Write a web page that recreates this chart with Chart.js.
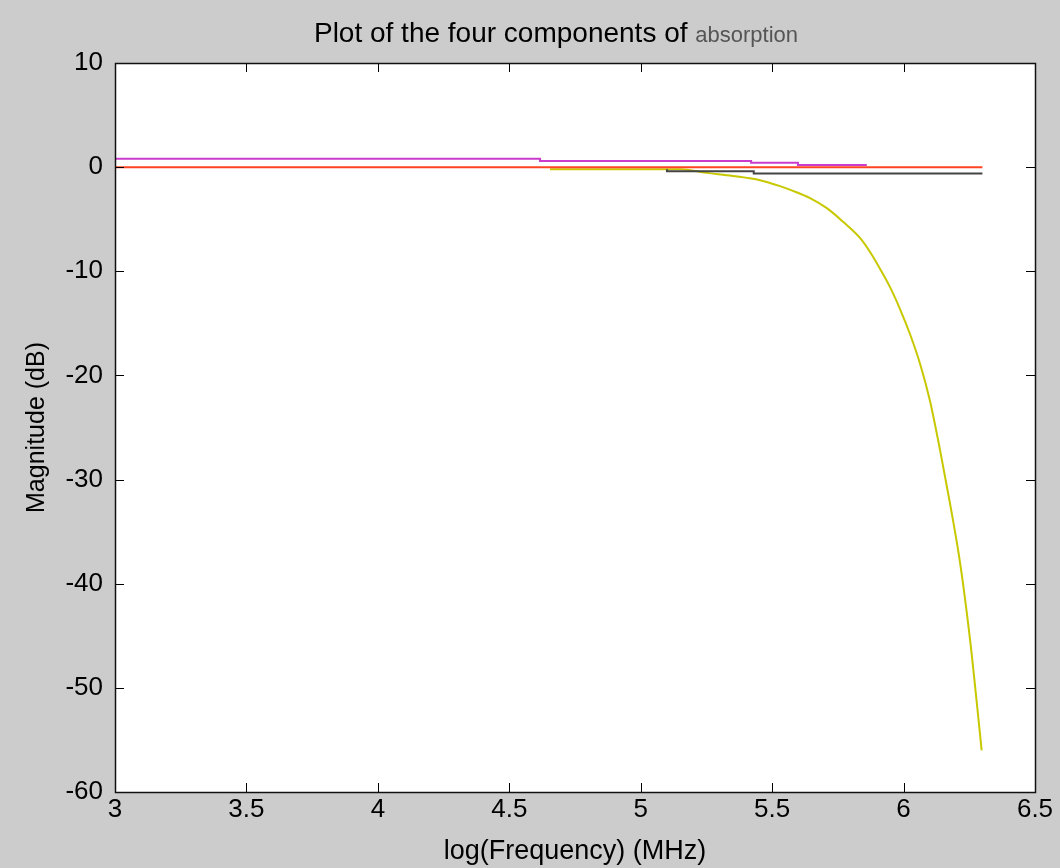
<!DOCTYPE html>
<html>
<head>
<meta charset="utf-8">
<script src="https://cdn.jsdelivr.net/npm/chart.js@4/dist/chart.umd.min.js"></script>
<style>
  html, body { margin: 0; padding: 0; background: #cccccc; }
  #wrap { width: 1060px; height: 868px; }
</style>
</head>
<body>
<div id="wrap"><canvas id="c" width="1060" height="868"></canvas></div>
<script>
// ---- data ----
const xTicks = [3, 3.5, 4, 4.5, 5, 5.5, 6, 6.5];
const yTicks = [10, 0, -10, -20, -30, -40, -50, -60];

const magentaX = [3, 4.617, 5.42, 5.598, 5.73, 5.86];
const magentaY = [1.05, 0.8, 0.6, 0.42, 0.2, 0.2];

const redX = [3, 6.3];
const redY = [0, 0];

const blackX = [5.10, 5.43, 6.0, 6.3];
const blackY = [-0.2, -0.4, -0.6, -0.6];

const yellowX = [4.655, 5.15, 5.25, 5.35, 5.454, 5.530, 5.579, 5.644, 5.708, 5.770, 5.835, 5.872, 5.910, 5.948, 5.986, 6.024, 6.063, 6.101, 6.139, 6.176, 6.215, 6.253, 6.291, 6.297];
const yellowY = [-0.2, -0.2, -0.55, -0.85, -1.25, -1.82, -2.28, -2.98, -3.94, -5.25, -6.82, -8.13, -9.75, -11.5, -13.6, -16.0, -18.9, -22.5, -27.2, -32.2, -38.0, -45.4, -54.5, -56.0];

const titleMain = 'Plot of the four components of ';
const titleSub = 'absorption';
const xTitle = 'log(Frequency) (MHz)';
const yTitle = 'Magnitude (dB)';

const FONT = "'Liberation Sans', Arial, Helvetica, sans-serif";

function pts(xs, ys) { return xs.map((x, i) => ({ x: x, y: ys[i] })); }

const framePlugin = {
  id: 'frame',
  beforeDraw(chart) {
    const { ctx, chartArea: a } = chart;
    ctx.save();
    ctx.fillStyle = '#cccccc';
    ctx.fillRect(0, 0, chart.width, chart.height);
    ctx.fillStyle = '#ffffff';
    ctx.fillRect(a.left, a.top, a.right - a.left, a.bottom - a.top);
    ctx.restore();
  },
  afterDraw(chart) {
    const { ctx, chartArea: a, scales } = chart;
    const L = 9;
    ctx.save();
    ctx.strokeStyle = '#000000';
    ctx.lineWidth = 1;
    ctx.beginPath();
    scales.x.ticks.forEach(t => {
      const p = Math.round(scales.x.getPixelForValue(t.value)) + 0.5;
      ctx.moveTo(p, a.bottom); ctx.lineTo(p, a.bottom - L);
      ctx.moveTo(p, a.top); ctx.lineTo(p, a.top + L);
    });
    scales.y.ticks.forEach(t => {
      const p = Math.round(scales.y.getPixelForValue(t.value)) + 0.5;
      ctx.moveTo(a.left, p); ctx.lineTo(a.left + L, p);
      ctx.moveTo(a.right, p); ctx.lineTo(a.right - L, p);
    });
    ctx.stroke();
    ctx.lineWidth = 1.5;
    ctx.strokeStyle = '#111111';
    ctx.strokeRect(Math.round(a.left) + 0.5, Math.round(a.top) + 0.5,
                   Math.round(a.right - a.left), Math.round(a.bottom - a.top));
    // title (two parts)
    const f1 = "28px " + FONT;
    const f2 = "22px " + FONT;
    ctx.font = f1; const w1 = ctx.measureText(titleMain).width;
    ctx.font = f2; const w2 = ctx.measureText(titleSub).width;
    const cx = (a.left + a.right) / 2 - 19;
    const x0 = cx - (w1 + w2) / 2;
    ctx.textBaseline = 'alphabetic';
    ctx.textAlign = 'left';
    ctx.fillStyle = '#000000';
    ctx.font = f1; ctx.fillText(titleMain, x0, 42);
    ctx.fillStyle = '#555555';
    ctx.font = f2; ctx.fillText(titleSub, x0 + w1, 42);
    ctx.restore();
  }
};

const line = (label, xs, ys, color, stepped, smooth) => ({
  label, data: pts(xs, ys), borderColor: color, backgroundColor: color,
  borderWidth: 2, pointRadius: 0, fill: false, stepped: stepped,
  tension: smooth ? 0.4 : 0, cubicInterpolationMode: smooth ? 'monotone' : 'default'
});

new Chart(document.getElementById('c'), {
  type: 'line',
  data: {
    datasets: [
      line('magenta', magentaX, magentaY, '#cc3ccc', 'after', false),
      line('black', blackX, blackY, '#444444', 'after', false),
      line('red', redX, redY, '#ff4422', false, false),
      line('yellow', yellowX, yellowY, '#c8c800', false, true)
    ]
  },
  options: {
    responsive: false,
    animation: false,
    events: [],
    layout: { padding: { top: 63, right: 25, left: 0, bottom: 0 } },
    plugins: { legend: { display: false }, tooltip: { enabled: false }, title: { display: false } },
    scales: {
      x: {
        type: 'linear', min: 3, max: 6.5,
        afterFit(s) { s.height = 76; },
        afterBuildTicks(s) { s.ticks = xTicks.map(v => ({ value: v })); },
        grid: { display: false, drawTicks: false },
        border: { display: false },
        ticks: { color: '#000', padding: 5, maxRotation: 0, autoSkip: false,
                 font: { family: FONT, size: 26, lineHeight: 1 },
                 callback: v => String(v) },
        title: { display: true, text: xTitle, color: '#000',
                 font: { family: FONT, size: 27, lineHeight: 1 }, padding: { top: 0, bottom: 3 } }
      },
      y: {
        type: 'linear', min: -60, max: 10,
        afterFit(s) { s.width = 115; },
        afterBuildTicks(s) { s.ticks = yTicks.map(v => ({ value: v })); },
        grid: { display: false, drawTicks: false },
        border: { display: false },
        ticks: { color: '#000', padding: 12, autoSkip: false,
                 font: { family: FONT, size: 26, lineHeight: 1 },
                 callback: v => String(v) },
        title: { display: true, text: yTitle, color: '#000',
                 font: { family: FONT, size: 25, lineHeight: 1 }, padding: { top: 25, bottom: 0 } }
      }
    }
  },
  plugins: [framePlugin]
});
</script>
</body>
</html>
